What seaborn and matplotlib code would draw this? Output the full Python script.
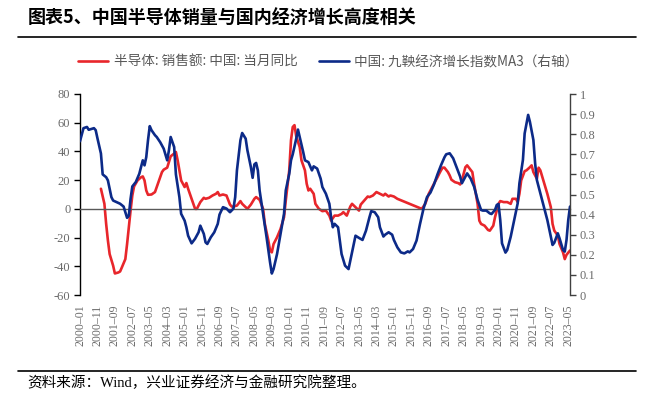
import matplotlib
matplotlib.use("Agg")
import matplotlib.pyplot as plt
import seaborn as sns
import pandas as pd

# ---------------- data ----------------
red_label = "半导体: 销售额: 中国: 当月同比"
blue_label = "中国: 九鞅经济增长指数MA3（右轴）"

red_dates = ["2001-01", "2001-03", "2001-04", "2001-05", "2001-06", "2001-08", "2001-09", "2001-11",
             "2001-12", "2002-01", "2002-03", "2002-04", "2002-05", "2002-06", "2002-07", "2002-08",
             "2002-10", "2002-12", "2003-01", "2003-02", "2003-03", "2003-04", "2003-06", "2003-08",
             "2003-09", "2003-11", "2003-12", "2004-01", "2004-03", "2004-04", "2004-05", "2004-07",
             "2004-08", "2004-09", "2004-10", "2004-11", "2005-01", "2005-02", "2005-03", "2005-05",
             "2005-06", "2005-07", "2005-08", "2005-10", "2005-12", "2006-01", "2006-03", "2006-05",
             "2006-07", "2006-08", "2006-09", "2006-11", "2007-01", "2007-03", "2007-04", "2007-05",
             "2007-07", "2007-09", "2007-10", "2007-12", "2008-01", "2008-03", "2008-05", "2008-06",
             "2008-08", "2008-10", "2008-11", "2009-01", "2009-02", "2009-03", "2009-04", "2009-06",
             "2009-08", "2009-10", "2009-11", "2010-01", "2010-02", "2010-03", "2010-04", "2010-05",
             "2010-07", "2010-08", "2010-10", "2010-11", "2010-12", "2011-01", "2011-03", "2011-04",
             "2011-06", "2011-08", "2011-10", "2011-12", "2012-01", "2012-03", "2012-05", "2012-07",
             "2012-08", "2012-10", "2012-12", "2013-01", "2013-03", "2013-05", "2013-06", "2013-08",
             "2013-10", "2013-11", "2014-01", "2014-03", "2014-05", "2014-07", "2014-08", "2014-10",
             "2014-11", "2015-01", "2015-03", "2016-05", "2016-07", "2016-09", "2016-11", "2017-01",
             "2017-02", "2017-03", "2017-04", "2017-05", "2017-06", "2017-08", "2017-09", "2017-10",
             "2017-12", "2018-02", "2018-03", "2018-04", "2018-06", "2018-07", "2018-08", "2018-10",
             "2018-11", "2019-01", "2019-02", "2019-03", "2019-05", "2019-07", "2019-08", "2019-10",
             "2019-11", "2020-01", "2020-02", "2020-04", "2020-06", "2020-08", "2020-09", "2020-11",
             "2020-12", "2021-01", "2021-02", "2021-04", "2021-05", "2021-07", "2021-08", "2021-09",
             "2021-11", "2021-12", "2022-01", "2022-03", "2022-05", "2022-07", "2022-08", "2022-09",
             "2022-11", "2022-12", "2023-02", "2023-03", "2023-04", "2023-06"]
red_values = [14, 3.5, -10.5, -22, -31.5, -39.6, -45, -44.3,
              -43.6, -40.8, -35, -24.5, -12.8, -1.2, 9.3, 15.6,
              19.8, 22, 22.6, 19.8, 12.8, 9.8, 10, 11.7,
              15.2, 22, 25.6, 27.3, 28.7, 32.6, 36.6, 38.5,
              39.6, 33.8, 26.8, 19.8, 15.2, 18, 14, 7,
              3.5, 0, 0, 4.7, 7.7, 7, 7.7, 9.3,
              10.5, 11.7, 9.3, 10, 9.3, 3, 1.6, 1.6,
              2.3, 5.4, 3.5, 1.2, 0, 3, 7, 8.2,
              6.3, 0, -10.5, -22, -29, -30.3, -24.5, -19.8,
              -14, -5.8, 5.8, 26.8, 47.8, 57, 58.3, 50.5,
              43, 33.8, 26.8, 17.5, 12.8, 14, 10.5, 3.5,
              0, -1.6, -1.2, -4.7, -8.2, -4.7, -4.7, -3.5,
              -2.3, -4.7, 1.6, 3.5, 1.2, -1.2, 3, 5.8,
              8.6, 8.2, 9.3, 11.7, 10.5, 9.3, 10.5, 8.6,
              9.3, 8.6, 7, 0, 3.5, 10.5, 15.2, 19.8,
              22, 24.5, 26.8, 28.7, 28.7, 25.6, 23.3, 20.3,
              18.6, 17.9, 17, 19.8, 29, 30.3, 28.7, 25.6,
              17.5, 3.5, -8.2, -10.5, -11.7, -14.7, -15.2, -11.7,
              -5.8, 3.5, 5.4, 4.7, 4.7, 3.5, 7, 7,
              4.7, 10.5, 19.8, 26.3, 26.8, 29, 30.3, 25.6,
              21, 28.7, 26.8, 18.6, 10.5, 1.2, -10.5, -15.2,
              -18.6, -24.5, -30.3, -35, -32, -29]

blue_dates = ["2000-01", "2000-03", "2000-05", "2000-06", "2000-09", "2000-10", "2000-11", "2001-01",
              "2001-02", "2001-04", "2001-05", "2001-07", "2001-08", "2001-10", "2001-12", "2002-02",
              "2002-03", "2002-04", "2002-05", "2002-06", "2002-07", "2002-09", "2002-11", "2003-01",
              "2003-02", "2003-03", "2003-04", "2003-05", "2003-06", "2003-08", "2003-09", "2003-11",
              "2004-01", "2004-03", "2004-04", "2004-05", "2004-07", "2004-08", "2004-10", "2004-11",
              "2005-01", "2005-02", "2005-03", "2005-05", "2005-07", "2005-09", "2005-10", "2005-12",
              "2006-01", "2006-02", "2006-04", "2006-06", "2006-08", "2006-09", "2006-11", "2007-01",
              "2007-03", "2007-05", "2007-06", "2007-07", "2007-09", "2007-10", "2007-12", "2008-01",
              "2008-03", "2008-04", "2008-05", "2008-06", "2008-07", "2008-08", "2008-10", "2008-12",
              "2009-02", "2009-03", "2009-04", "2009-06", "2009-08", "2009-10", "2009-11", "2010-01",
              "2010-02", "2010-03", "2010-05", "2010-06", "2010-07", "2010-09", "2010-10", "2010-12",
              "2011-02", "2011-03", "2011-05", "2011-07", "2011-08", "2011-10", "2011-12", "2012-01",
              "2012-02", "2012-03", "2012-05", "2012-06", "2012-07", "2012-09", "2012-11", "2012-12",
              "2013-02", "2013-03", "2013-05", "2013-07", "2013-09", "2013-11", "2013-12", "2014-02",
              "2014-04", "2014-05", "2014-07", "2014-08", "2014-10", "2014-12", "2015-01", "2015-03",
              "2015-05", "2015-07", "2015-09", "2015-10", "2015-12", "2016-02", "2016-04", "2016-06",
              "2016-08", "2016-10", "2016-12", "2017-02", "2017-04", "2017-06", "2017-07", "2017-09",
              "2017-11", "2018-01", "2018-03", "2018-04", "2018-06", "2018-07", "2018-09", "2018-11",
              "2019-01", "2019-03", "2019-04", "2019-06", "2019-08", "2019-09", "2019-11", "2019-12",
              "2020-01", "2020-02", "2020-03", "2020-05", "2020-06", "2020-08", "2020-10", "2020-12",
              "2021-01", "2021-03", "2021-04", "2021-06", "2021-07", "2021-09", "2021-10", "2021-11",
              "2022-01", "2022-03", "2022-05", "2022-07", "2022-08", "2022-09", "2022-11", "2022-12",
              "2023-02", "2023-03", "2023-04", "2023-05", "2023-06"]
blue_values = [0.765, 0.83, 0.836, 0.822, 0.83, 0.82, 0.78, 0.704,
               0.60, 0.586, 0.57, 0.487, 0.47, 0.462, 0.454, 0.44,
               0.412, 0.384, 0.395, 0.478, 0.54, 0.562, 0.603, 0.67,
               0.645, 0.686, 0.77, 0.84, 0.82, 0.795, 0.786, 0.76,
               0.728, 0.67, 0.72, 0.786, 0.736, 0.60, 0.487, 0.404,
               0.37, 0.337, 0.295, 0.257, 0.28, 0.312, 0.345, 0.304,
               0.262, 0.254, 0.287, 0.312, 0.354, 0.40, 0.437, 0.43,
               0.412, 0.43, 0.487, 0.62, 0.77, 0.806, 0.778, 0.72,
               0.636, 0.583, 0.65, 0.657, 0.62, 0.52, 0.404, 0.287,
               0.162, 0.107, 0.129, 0.204, 0.304, 0.404, 0.52, 0.603,
               0.67, 0.70, 0.778, 0.823, 0.786, 0.711, 0.67, 0.661,
               0.62, 0.64, 0.629, 0.579, 0.537, 0.504, 0.454, 0.387,
               0.337, 0.354, 0.337, 0.271, 0.204, 0.146, 0.129, 0.171,
               0.254, 0.295, 0.284, 0.274, 0.32, 0.387, 0.417, 0.412,
               0.387, 0.337, 0.291, 0.30, 0.312, 0.30, 0.274, 0.237,
               0.212, 0.207, 0.217, 0.212, 0.229, 0.271, 0.354, 0.43,
               0.487, 0.51, 0.55, 0.60, 0.645, 0.685, 0.70, 0.705,
               0.68, 0.635, 0.589, 0.556, 0.589, 0.605, 0.58, 0.539,
               0.473, 0.423, 0.42, 0.42, 0.406, 0.403, 0.423, 0.448,
               0.453, 0.373, 0.257, 0.211, 0.224, 0.29, 0.373, 0.456,
               0.556, 0.672, 0.804, 0.896, 0.862, 0.771, 0.655, 0.572,
               0.506, 0.439, 0.373, 0.29, 0.249, 0.26, 0.307, 0.282,
               0.224, 0.216, 0.274, 0.373, 0.44]

tick_dates = ["2000-01", "2000-11", "2001-09", "2002-07", "2003-05", "2004-03", "2005-01",
              "2005-11", "2006-09", "2007-07", "2008-05", "2009-03", "2010-01", "2010-11",
              "2011-09", "2012-07", "2013-05", "2014-03", "2015-01", "2015-11", "2016-09",
              "2017-07", "2018-05", "2019-03", "2020-01", "2020-11", "2021-09", "2022-07",
              "2023-05"]

left_ticks = [-60, -40, -20, 0, 20, 40, 60, 80]
right_ticks = [0, 0.1, 0.2, 0.3, 0.4, 0.5, 0.6, 0.7, 0.8, 0.9, 1]
right_tick_labels = ["0", "0.1", "0.2", "0.3", "0.4", "0.5", "0.6", "0.7", "0.8", "0.9", "1"]

title = "图表5、中国半导体销量与国内经济增长高度相关"
source = "资料来源：Wind，兴业证券经济与金融研究院整理。"


def month_index(s):
    y, m = s.split("-")
    return (int(y) - 2000) * 12 + int(m) - 1


red_df = pd.DataFrame({"m": [month_index(d) for d in red_dates], "v": red_values})
blue_df = pd.DataFrame({"m": [month_index(d) for d in blue_dates], "v": blue_values})

# ---------------- style ----------------
sns.set_style("white")
CJK = ["Noto Sans CJK SC", "DejaVu Sans"]
SERIF = ["Liberation Serif", "Noto Sans CJK SC", "DejaVu Sans"]
plt.rcParams["font.family"] = SERIF
plt.rcParams["axes.unicode_minus"] = False

RED = "#E8262B"
BLUE = "#0C2A88"
TICK_COLOR = "#6b6b6b"

fig = plt.figure(figsize=(6.53, 3.99), dpi=100)
ax = fig.add_axes([80 / 653, 1 - 295 / 399, (570 - 80) / 653, (295 - 94) / 399])
ax.set_facecolor("none")
ax2 = ax.twinx()

sns.lineplot(data=red_df, x="m", y="v", ax=ax, color=RED, lw=1.9, label=red_label)
sns.lineplot(data=blue_df, x="m", y="v", ax=ax2, color=BLUE, lw=1.9, label=blue_label)

ax.set_xlim(0, 281)
ax.set_ylim(-60, 80)
ax2.set_ylim(0, 1)
ax.set_xlabel("")
ax.set_ylabel("")
ax2.set_xlabel("")
ax2.set_ylabel("")

# left axis
ax.set_yticks(left_ticks)
ax.set_yticklabels([str(t) for t in left_ticks])
ax.tick_params(axis="y", direction="out", length=4, width=1, color="#000000",
               labelsize=9, labelcolor=TICK_COLOR, pad=3)
# x axis: spine on the zero line, inward ticks, labels at bottom
ax.spines["bottom"].set_position(("data", 0))
ax.spines["bottom"].set_color("#595959")
ax.spines["bottom"].set_linewidth(1.0)
ax.set_xticks([month_index(d) for d in tick_dates])
ax.set_xticklabels([d.replace("-", "–") for d in tick_dates], rotation=90)
ax.tick_params(axis="x", direction="in", length=4, width=1, color="#595959",
               labelsize=8.5, labelcolor=TICK_COLOR, pad=69)
ax.spines["left"].set_color("#000000")
ax.spines["left"].set_linewidth(1.0)
for s in ["top", "right"]:
    ax.spines[s].set_visible(False)

# right axis
ax2.set_yticks(right_ticks)
ax2.set_yticklabels(right_tick_labels)
ax2.tick_params(axis="y", direction="out", length=4, width=1, color="#404040",
                labelsize=9, labelcolor=TICK_COLOR, pad=3)
for s in ["top", "bottom", "left"]:
    ax2.spines[s].set_visible(False)
ax2.spines["right"].set_color("#404040")
ax2.spines["right"].set_linewidth(1.0)

# legend
h1, l1 = ax.get_legend_handles_labels()
h2, l2 = ax2.get_legend_handles_labels()
ax.get_legend().remove()
ax2.get_legend().remove()
leg = fig.legend(h1 + h2, l1 + l2, loc="center", bbox_to_anchor=(0.503, 1 - 62 / 399), ncol=2,
                 frameon=False, handlelength=2.2, handletextpad=0.4, columnspacing=1.6,
                 prop={"family": CJK, "size": 9.8})
for t in leg.get_texts():
    t.set_color("#595959")

# title & rules
fig.text(28 / 653, 1 - 18 / 399, title, ha="left", va="center", fontsize=13,
         fontweight="bold", family=CJK, color="#000000")
fig.add_artist(plt.Line2D([18 / 653, 636 / 653], [1 - 37 / 399, 1 - 37 / 399],
                          transform=fig.transFigure, color="#000000", lw=1.2))
fig.add_artist(plt.Line2D([18 / 653, 636 / 653], [1 - 371 / 399, 1 - 371 / 399],
                          transform=fig.transFigure, color="#000000", lw=1.2))
fig.text(27 / 653, 1 - 383 / 399, source, ha="left", va="center", fontsize=10.5,
         family=SERIF, color="#000000")

fig.savefig("out.png", dpi=100)
